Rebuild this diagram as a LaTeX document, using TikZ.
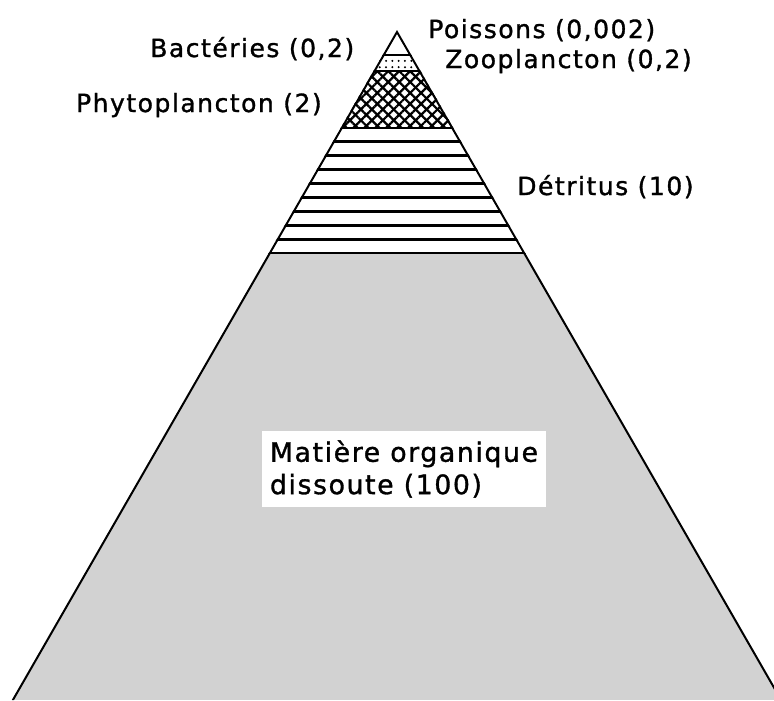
\documentclass[tikz,border=0pt]{standalone}
\usepackage{fontspec}
\newfontfamily\lettering[LetterSpace=6,FakeBold=1.2]{DejaVu Sans}
\definecolor{stipple}{RGB}{210,210,210}
\usetikzlibrary{patterns,patterns.meta}

\begin{document}
\begin{tikzpicture}[x=0.025cm,y=-0.025cm,
  lbl/.style={font=\lettering\fontsize{17.8}{22}\selectfont,inner sep=0pt},
  band/.style={line width=2pt},
  edge/.style={line width=2.8pt,line join=miter}
]
  \useasboundingbox (0,0) rectangle (774,700);
  \coordinate (apex) at (397,30);
  \coordinate (bl) at (11.75,700);
  \coordinate (br) at (782.25,700);

  % Bands of the pyramid
  \begin{scope}
    \clip (0,0) rectangle (774,700);
    \clip (apex) -- (bl) -- (br) -- cycle;
    \fill[stipple] (0,253) rectangle (774,700);
    \fill[pattern={Dots[distance=4.5pt,radius=0.8pt]}] (0,55) rectangle (774,71);
    \fill[pattern={Lines[angle=45,distance=5.5pt,line width=1.6pt]}] (0,71) rectangle (774,128);
    \fill[pattern={Lines[angle=-45,distance=5.5pt,line width=1.6pt]}] (0,71) rectangle (774,128);
    \foreach \k in {0,...,9}
      \draw[band] (0,128+\k*125/9) -- (774,128+\k*125/9);
    \draw[band] (0,55) -- (774,55);
    \draw[band] (0,71) -- (774,71);
    \draw[edge] (bl) -- (apex) -- (br);
  \end{scope}

  % Labels
  \node[lbl,anchor=base west] (fish) at (428,38) {Poissons (0,002)};
  \node[lbl,anchor=base west] (zoo) at (445,68) {Zooplancton (0,2)};
  \node[lbl,anchor=base west] (bact) at (150,57) {Bactéries (0,2)};
  \node[lbl,anchor=base east] (phyto) at (322,112) {Phytoplancton (2)};
  \node[lbl,anchor=base west] (detr) at (517,195) {Détritus (10)};
  \node[lbl,font=\lettering\fontsize{19}{23}\selectfont,fill=white,
    inner xsep=6pt,inner ysep=7pt,align=left] (mod) at (404,469)
    {Matière organique\\dissoute (100)};
\end{tikzpicture}
\end{document}
